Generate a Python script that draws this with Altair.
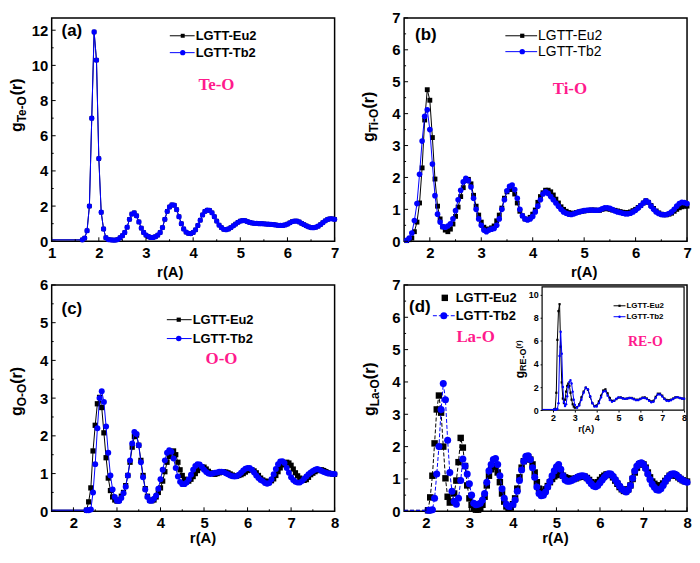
import altair as alt
import pandas as pd

FONT = "Liberation Sans"
SERIF = "Liberation Serif"
BLACK = "#000000"
BLUE = "#0000ff"
PINK = "#ff1a8c"
SERIES = ["LGTT-Eu2", "LGTT-Tb2"]
STEP = 0.05

# ---------------- data ----------------
# (a) Te-O : flat tail from 1.0, then sampled every 0.05 from 1.65
teo_flat_start = 1.0
teo_r0 = 1.65
teo_tb2 = [0.08, 0.18, 0.6, 2.0, 7.0, 11.9, 10.3, 4.7, 1.65, 0.7,
           0.2, 0.1, 0.08, 0.07, 0.07, 0.1, 0.2, 0.32, 0.5, 0.8,
           1.25, 1.55, 1.62, 1.45, 1.1, 0.75, 0.5, 0.35, 0.27, 0.22,
           0.22, 0.26, 0.35, 0.5, 0.78, 1.25, 1.7, 1.95, 2.07, 2.05,
           1.8, 1.4, 1.0, 0.7, 0.52, 0.45, 0.44, 0.5, 0.65, 0.9,
           1.2, 1.5, 1.7, 1.77, 1.75, 1.62, 1.4, 1.15, 0.92, 0.78,
           0.68, 0.66, 0.7, 0.78, 0.88, 0.98, 1.08, 1.15, 1.18, 1.17,
           1.12, 1.07, 1.04, 1.02, 1.02, 1.0, 1.0, 0.99, 0.98, 0.97,
           0.96, 0.95, 0.93, 0.91, 0.9, 0.9, 0.93, 0.98, 1.05, 1.12,
           1.15, 1.15, 1.1, 1.02, 0.95, 0.88, 0.82, 0.78, 0.77, 0.8,
           0.86, 0.95, 1.06, 1.16, 1.24, 1.28, 1.28, 1.25]
teo_eu2 = teo_tb2  # the Eu2 curve lies exactly under the Tb2 curve

# (b) Ti-O
tio_flat_start = 1.5
tio_r0 = 1.55
tio_eu2 = [0.02, 0.05, 0.1, 0.3, 0.6, 1.2, 2.3, 3.8, 4.75, 4.42,
           3.25, 1.95, 1.1, 0.7, 0.45, 0.35, 0.3, 0.38, 0.54, 0.78,
           1.07, 1.4, 1.68, 1.9, 1.94, 1.8, 1.44, 1.1, 0.82, 0.6,
           0.44, 0.38, 0.38, 0.42, 0.48, 0.64, 0.82, 1.04, 1.35, 1.55,
           1.62, 1.63, 1.48, 1.2, 0.94, 0.8, 0.7, 0.68, 0.75, 0.85,
           0.98, 1.22, 1.4, 1.52, 1.6, 1.6, 1.55, 1.45, 1.32, 1.2,
           1.08, 1.0, 0.94, 0.9, 0.88, 0.88, 0.9, 0.92, 0.94, 0.95,
           0.96, 0.97, 0.98, 0.98, 0.97, 0.97, 1.0, 1.02, 1.02, 1.0,
           0.98, 0.97, 0.95, 0.93, 0.91, 0.9, 0.9, 0.92, 0.96, 1.0,
           1.06, 1.12, 1.2, 1.27, 1.22, 1.12, 1.03, 0.95, 0.89, 0.85,
           0.83, 0.83, 0.85, 0.88, 0.94, 1.0, 1.05, 1.08, 1.1, 1.1]
tio_tb2 = [0.03, 0.1, 0.26, 0.65, 1.18, 2.1, 3.14, 3.92, 4.12, 3.5,
           2.42, 1.43, 0.85, 0.6, 0.46, 0.44, 0.48, 0.55, 0.7, 0.96,
           1.3, 1.6, 1.86, 1.97, 1.9, 1.7, 1.35, 1.0, 0.7, 0.5,
           0.35, 0.3, 0.35, 0.38, 0.4, 0.5, 0.7, 1.0, 1.3, 1.58,
           1.72, 1.76, 1.62, 1.35, 1.0, 0.8, 0.7, 0.67, 0.7, 0.78,
           0.92, 1.1, 1.3, 1.48, 1.55, 1.5, 1.4, 1.3, 1.2, 1.1,
           1.0, 0.92, 0.88, 0.85, 0.84, 0.86, 0.89, 0.92, 0.94, 0.96,
           0.97, 0.98, 0.98, 0.97, 0.97, 0.98, 1.02, 1.05, 1.05, 1.03,
           0.99, 0.95, 0.92, 0.9, 0.88, 0.86, 0.86, 0.88, 0.92, 0.97,
           1.04, 1.12, 1.2, 1.27, 1.22, 1.1, 1.0, 0.92, 0.87, 0.84,
           0.83, 0.84, 0.87, 0.92, 1.0, 1.1, 1.18, 1.22, 1.21, 1.18]

# (c) O-O
oo_flat_start = 1.5
oo_r0 = 2.30
oo_eu2 = [0.03, 0.25, 0.62, 1.6, 2.28, 2.85, 3.02, 2.75, 2.08, 1.42,
          0.88, 0.55, 0.38, 0.3, 0.27, 0.3, 0.4, 0.5, 0.68, 0.95,
          1.3, 1.7, 1.98, 2.02, 1.75, 1.35, 0.95, 0.6, 0.4, 0.3,
          0.28, 0.3, 0.38, 0.5, 0.62, 0.8, 1.05, 1.3, 1.45, 1.57,
          1.6, 1.5, 1.3, 1.1, 0.95, 0.85, 0.8, 0.8, 0.85, 0.92,
          1.0, 1.08, 1.15, 1.18, 1.17, 1.12, 1.06, 1.02, 1.0, 0.98,
          1.0, 1.02, 1.04, 1.05, 1.04, 1.02, 0.99, 0.96, 0.94, 0.93,
          0.95, 0.97, 1.0, 1.04, 1.08, 1.1, 1.1, 1.07, 1.02, 0.95,
          0.88, 0.83, 0.8, 0.79, 0.79, 0.81, 0.86, 0.95, 1.05, 1.15,
          1.23, 1.28, 1.3, 1.28, 1.22, 1.12, 1.02, 0.94, 0.88, 0.84,
          0.82, 0.84, 0.9, 0.97, 1.01, 1.05, 1.08, 1.1, 1.1, 1.08,
          1.05, 1.02, 1.0, 0.99, 0.98]
oo_tb2 = [0.03, 0.03, 0.05, 0.5, 1.25, 2.2, 3.0, 3.18, 2.9, 2.25,
          1.55, 0.95, 0.58, 0.38, 0.28, 0.27, 0.35, 0.48, 0.65, 0.95,
          1.35, 1.8, 2.1, 2.05, 1.75, 1.3, 0.9, 0.58, 0.38, 0.28,
          0.28, 0.33, 0.42, 0.6, 0.85, 1.1, 1.35, 1.55, 1.62, 1.58,
          1.4, 1.15, 0.92, 0.78, 0.72, 0.72, 0.76, 0.85, 0.97, 1.1,
          1.2, 1.25, 1.24, 1.18, 1.1, 1.04, 1.0, 0.99, 1.0, 1.02,
          1.03, 1.05, 1.05, 1.04, 1.01, 0.98, 0.95, 0.93, 0.92, 0.93,
          0.97, 1.02, 1.08, 1.13, 1.15, 1.15, 1.1, 1.03, 0.95, 0.88,
          0.83, 0.8, 0.75, 0.73, 0.75, 0.85, 0.98, 1.12, 1.25, 1.32,
          1.33, 1.28, 1.15, 1.02, 0.9, 0.83, 0.78, 0.76, 0.76, 0.8,
          0.86, 0.92, 0.98, 1.03, 1.07, 1.1, 1.12, 1.1, 1.07, 1.04,
          1.02, 1.0, 1.0, 0.99, 0.99]

# (d) La-O
lao_flat_start = 1.5
lao_r0 = 2.05
lao_eu2 = [0.03,
           0.43, 1.1, 2.1, 3.15, 3.58, 3.05, 2.0, 1.02, 0.45, 0.27,
           0.3, 0.55, 0.95, 1.52, 2.27, 1.97, 1.4, 0.8, 0.4, 0.2,
           0.1, 0.05, 0.05, 0.1, 0.2, 0.45, 0.8, 1.1, 1.3, 1.4,
           1.38, 1.2, 0.9, 0.55, 0.3, 0.15, 0.1, 0.12, 0.22, 0.4,
           0.7, 1.05, 1.35, 1.55, 1.65, 1.68, 1.6, 1.45, 1.2, 0.9,
           0.7, 0.6, 0.6, 0.68, 0.78, 0.9, 1.0, 1.08, 1.12, 1.18,
           1.15, 1.1, 1.05, 1.02, 1.0, 1.0, 1.0, 1.02, 1.05, 1.07,
           1.08, 1.07, 1.03, 0.97, 0.9, 0.85, 0.85, 0.9, 0.97, 1.05,
           1.1, 1.14, 1.15, 1.12, 1.05, 0.95, 0.85, 0.75, 0.68, 0.63,
           0.62, 0.68, 0.8, 1.0, 1.2, 1.35, 1.45, 1.48, 1.45, 1.35,
           1.2, 1.05, 0.92, 0.85, 0.8, 0.78, 0.8, 0.86, 0.94, 1.02,
           1.1, 1.14, 1.14, 1.1, 1.05, 1.0, 0.96, 0.93, 0.92]
lao_tb2 = [0.03,
           0.03, 0.05, 0.4, 1.15, 2.0, 3.15, 3.95, 3.45, 2.2, 1.2,
           0.62, 0.3, 0.22, 0.4, 0.95, 1.62, 1.4, 1.15, 0.85, 0.5,
           0.25, 0.2, 0.22, 0.25, 0.35, 0.55, 0.9, 1.25, 1.45, 1.6,
           1.63, 1.45, 1.1, 0.7, 0.4, 0.22, 0.15, 0.15, 0.2, 0.35,
           0.62, 0.95, 1.28, 1.55, 1.7, 1.72, 1.6, 1.35, 1.05, 0.75,
           0.55, 0.48, 0.5, 0.6, 0.75, 0.92, 1.1, 1.25, 1.38, 1.45,
           1.3, 1.1, 0.97, 0.93, 0.93, 0.95, 0.99, 1.03, 1.07, 1.09,
           1.1, 1.08, 1.02, 0.94, 0.85, 0.78, 0.76, 0.8, 0.88, 0.97,
           1.05, 1.12, 1.16, 1.15, 1.08, 0.98, 0.88, 0.78, 0.7, 0.64,
           0.6, 0.66, 0.8, 1.02, 1.25, 1.4, 1.48, 1.5, 1.45, 1.32,
           1.15, 0.98, 0.84, 0.74, 0.67, 0.65, 0.7, 0.8, 0.92, 1.02,
           1.1, 1.15, 1.16, 1.13, 1.07, 1.01, 0.96, 0.92, 0.9]

# inset RE-O (finer near the first peak, 0.1 steps beyond 3.0)
reo_r = ([1.5] + [round(2.05 + 0.05 * i, 2) for i in range(20)]
         + [round(3.1 + 0.1 * i, 2) for i in range(50)])
reo_eu2 = [0.05,
           0.05, 0.1, 1.5, 6.1, 8.6, 9.2, 5.5, 2.4, 1.0, 0.6,
           0.9, 1.6, 2.1, 2.3, 2.1, 1.5, 0.9, 0.5, 0.3, 0.2,
           0.25, 0.5, 1.1, 1.6, 1.95, 1.75, 1.15, 0.6, 0.35, 0.4,
           0.75, 1.25, 1.7, 1.8, 1.45, 1.05, 0.8, 0.8, 0.95, 1.08,
           1.1, 1.02, 0.98, 1.0, 1.05, 1.05, 0.98, 0.9, 0.9, 0.98,
           1.08, 1.1, 1.0, 0.85, 0.75, 0.8, 1.15, 1.42, 1.42, 1.25,
           1.0, 0.88, 0.85, 0.9, 1.0, 1.1, 1.12, 1.05, 1.0, 0.98]
reo_tb2 = [0.05,
           0.05, 0.05, 0.05, 0.1, 0.6, 4.7, 6.8, 4.9, 2.0, 0.7,
           0.35, 0.5, 1.2, 2.0, 2.45, 2.6, 2.3, 1.6, 0.9, 0.45,
           0.2, 0.4, 0.9, 1.5, 1.95, 1.8, 1.2, 0.6, 0.3, 0.3,
           0.6, 1.1, 1.6, 1.65, 1.25, 0.88, 0.72, 0.8, 0.98, 1.1,
           1.08, 1.0, 0.97, 1.0, 1.04, 1.02, 0.94, 0.86, 0.86, 0.95,
           1.05, 1.05, 0.95, 0.8, 0.68, 0.72, 1.05, 1.35, 1.35, 1.18,
           0.95, 0.8, 0.78, 0.85, 0.96, 1.08, 1.12, 1.05, 1.0, 0.98]

# axis ticks
a_xmaj = [1, 2, 3, 4, 5, 6, 7]
a_xmin = [1.5, 2.5, 3.5, 4.5, 5.5, 6.5]
a_ymaj = [0, 2, 4, 6, 8, 10, 12]
a_ymin = [1, 3, 5, 7, 9, 11]
b_xmaj = [2, 3, 4, 5, 6, 7]
b_xmin = [2.5, 3.5, 4.5, 5.5, 6.5]
b_ymaj = [0, 1, 2, 3, 4, 5, 6, 7]
b_ymin = [0.5, 1.5, 2.5, 3.5, 4.5, 5.5, 6.5]
c_xmaj = [2, 3, 4, 5, 6, 7, 8]
c_xmin = [2.5, 3.5, 4.5, 5.5, 6.5, 7.5]
c_ymaj = [0, 1, 2, 3, 4, 5, 6]
c_ymin = [0.5, 1.5, 2.5, 3.5, 4.5, 5.5]
d_ymaj = [0, 1, 2, 3, 4, 5, 6, 7]
d_ymin = [0.5, 1.5, 2.5, 3.5, 4.5, 5.5, 6.5]
inset_xmaj = [2, 3, 4, 5, 6, 7, 8]
inset_ymaj = [0, 2, 4, 6, 8, 10]

# ---------------- helpers ----------------
W = 285
H1 = 225
H2 = 228
ONE = pd.DataFrame({"k": [0]})
CW = {"g": 0.611, "T": 0.611, "e": 0.556, "-": 0.333, "O": 0.778, "i": 0.278,
      "L": 0.611, "a": 0.556, "R": 0.722, "E": 0.667, "(": 0.333, "r": 0.389, ")": 0.333}


def tw(s, size):
    return sum(CW[c] for c in s) * size


def grid_frame(flat_start, r0, eu, tb):
    rows = []
    for name, vals in ((SERIES[0], eu), (SERIES[1], tb)):
        rows.append({"r": flat_start, "g": vals[0], "s": name, "m": False})
        for i, v in enumerate(vals):
            rows.append({"r": round(r0 + STEP * i, 2), "g": v, "s": name, "m": True})
    return pd.DataFrame(rows)


def list_frame(rs, eu, tb):
    rows = []
    for name, vals in ((SERIES[0], eu), (SERIES[1], tb)):
        for i, (r, v) in enumerate(zip(rs, vals)):
            rows.append({"r": r, "g": v, "s": name, "m": i > 0})
    return pd.DataFrame(rows)


def text_mark(x, y, s, size, weight="bold", font=FONT, color="black",
              align="left", baseline="alphabetic", angle=0):
    kw = dict(text=s, font=font, fontSize=size, fontWeight=weight, color=color,
              align=align, baseline=baseline)
    if angle:
        kw["angle"] = angle
    return alt.Chart(ONE).mark_text(**kw).encode(x=alt.value(x), y=alt.value(y))


def ytitle(bx, yb, sub, gsize=16, ssize=12, rsize=16, sub_dx=4, r_dx=0):
    wg = tw("g", gsize)
    ws = tw(sub, ssize)
    return [text_mark(bx, yb, "g", gsize, angle=270),
            text_mark(bx + sub_dx, yb - wg, sub, ssize, angle=270),
            text_mark(bx + r_dx, yb - wg - ws, "(r)", rsize, angle=270)]


def legend_row(y, x1, x2, mx, tx, name, color, shape, msize, fsize,
               weight="bold", dash=None, line=True):
    out = []
    if line:
        kw = dict(color=color, strokeWidth=1)
        if dash:
            kw["strokeDash"] = dash
        out.append(alt.Chart(ONE).mark_rule(**kw).encode(
            x=alt.value(x1), x2=alt.value(x2), y=alt.value(y)))
    out.append(alt.Chart(ONE).mark_point(shape=shape, filled=True, size=msize,
                                         color=color, opacity=1).encode(
        x=alt.value(mx), y=alt.value(y)))
    out.append(text_mark(tx, y, name, fsize, weight=weight, baseline="middle"))
    return out


def series_layers(df, xs, ys, sizes, xaxis, yaxis, dash=None):
    out = []
    for name, color, shape, msize in zip(SERIES, [BLACK, BLUE], ["square", "circle"], sizes):
        d = df[df.s == name]
        kw = dict(color=color, strokeWidth=1)
        if dash:
            kw["strokeDash"] = dash
        out.append(alt.Chart(d).mark_line(**kw).encode(
            x=alt.X("r:Q", scale=xs, axis=xaxis),
            y=alt.Y("g:Q", scale=ys, axis=yaxis)))
        out.append(alt.Chart(d[d.m]).mark_point(shape=shape, filled=True, size=msize,
                                                color=color, opacity=1).encode(
            x=alt.X("r:Q", scale=xs, axis=xaxis),
            y=alt.Y("g:Q", scale=ys, axis=yaxis)))
    return out


def tick_layers(xs, ys, xa, ya, xmaj, xmin, ymaj, ymin, H):
    out = []
    for vals, ln in ((xmaj, 4), (xmin, 2)):
        out.append(alt.Chart(pd.DataFrame({"r": vals})).mark_rule(color="black", strokeWidth=1).encode(
            x=alt.X("r:Q", scale=xs, axis=xa), y=alt.value(H), y2=alt.value(H - ln)))
    for vals, ln in ((ymaj, 4), (ymin, 2)):
        out.append(alt.Chart(pd.DataFrame({"g": vals})).mark_rule(color="black", strokeWidth=1).encode(
            y=alt.Y("g:Q", scale=ys, axis=ya), x=alt.value(0), x2=alt.value(ln)))
    return out


def axes(xmaj, ymaj, title_x, title_y):
    common = dict(grid=False, ticks=False, domain=False, format="d",
                  labelFont=FONT, labelFontSize=15, labelFontWeight="bold",
                  labelColor="black", labelPadding=4, labelFlush=False, labelOverlap=False)
    xa = alt.Axis(values=xmaj, title="r(A)", titleFont=FONT, titleFontSize=15,
                  titleFontWeight="bold", titleColor="black", titleX=title_x, titleY=title_y,
                  titleAlign="center", titleBaseline="alphabetic", **common)
    ya = alt.Axis(values=ymaj, title=None, **common)
    return xa, ya


def main_panel(df, H, xdom, ydom, xmaj, xmin, ymaj, ymin, title_x, title_y, sizes, dash=None):
    xs = alt.Scale(domain=xdom, nice=False, zero=False)
    ys = alt.Scale(domain=ydom, nice=False, zero=False)
    xa, ya = axes(xmaj, ymaj, title_x, title_y)
    return (series_layers(df, xs, ys, sizes, xa, ya, dash)
            + tick_layers(xs, ys, xa, ya, xmaj, xmin, ymaj, ymin, H))


# ---------------- panel (a) ----------------
df_a = grid_frame(teo_flat_start, teo_r0, teo_eu2, teo_tb2)
layers_a = main_panel(df_a, H1, [1, 7], [0, 12.7], a_xmaj, a_xmin, a_ymaj, a_ymin,
                      119, 35, [20, 28])
layers_a += [text_mark(10, 18, "(a)", 17),
             text_mark(166, 73, "Te-O", 17, font=SERIF, color=PINK, align="center")]
layers_a += legend_row(18, 119, 144, 132, 145, SERIES[0], BLACK, "square", 16, 13)
layers_a += legend_row(35, 119, 144, 132, 145, SERIES[1], BLUE, "circle", 28, 13)
layers_a += ytitle(-30, H1 - 110, "Te-O")
pa = alt.layer(*layers_a).properties(width=W, height=H1)

# ---------------- panel (b) ----------------
df_b = grid_frame(tio_flat_start, tio_r0, tio_eu2, tio_tb2)
layers_b = main_panel(df_b, H1, [1.5, 7], [0, 7], b_xmaj, b_xmin, b_ymaj, b_ymin,
                      181, 35, [24, 32])
layers_b += [text_mark(11, 22, "(b)", 17),
             text_mark(167, 77, "Ti-O", 17, font=SERIF, color=PINK, align="center")]
layers_b += legend_row(18, 102, 134, 119, 135, SERIES[0], BLACK, "square", 18, 14, weight="normal")
layers_b += legend_row(34, 102, 134, 119, 135, SERIES[1], BLUE, "circle", 30, 14, weight="normal")
layers_b += ytitle(-30, H1 - 100, "Ti-O")
pb = alt.layer(*layers_b).properties(width=W, height=H1)

# ---------------- panel (c) ----------------
df_c = grid_frame(oo_flat_start, oo_r0, oo_eu2, oo_tb2)
layers_c = main_panel(df_c, H2, [1.5, 8], [0, 6], c_xmaj, c_xmin, c_ymaj, c_ymin,
                      152, 31, [28, 36])
layers_c += [text_mark(10, 29, "(c)", 17),
             text_mark(171, 80, "O-O", 17, font=SERIF, color=PINK, align="center")]
layers_c += legend_row(35, 116, 141, 128, 142, SERIES[0], BLACK, "square", 18, 13)
layers_c += legend_row(54, 116, 141, 128, 142, SERIES[1], BLUE, "circle", 30, 13)
layers_c += ytitle(-30, 132, "O-O")
pc = alt.layer(*layers_c).properties(width=W, height=H2)

# ---------------- panel (d) with inset ----------------
df_d = grid_frame(lao_flat_start, lao_r0, lao_eu2, lao_tb2)
layers_d = main_panel(df_d, H2, [1.5, 8], [0, 7], c_xmaj, c_xmin, d_ymaj, d_ymin,
                      152, 31, [42, 50], dash=[4, 2])
layers_d += [text_mark(5, 27, "(d)", 17),
             text_mark(72, 57, "La-O", 17, font=SERIF, color=PINK, align="center")]
layers_d += legend_row(13, 29, 51, 41, 52, SERIES[0], BLACK, "square", 42, 13, line=False)
layers_d += legend_row(31, 29, 51, 40, 52, SERIES[1], BLUE, "circle", 50, 13, dash=[4, 2])
layers_d += ytitle(-29, 132, "La-O")
main_d = alt.layer(*layers_d)

IX0, IX1, IY0, IY1 = 139, 282, 126, 2
inset_xdom = [1.5, 8]
inset_ydom = [0, 10.7]
ixs = alt.Scale(domain=inset_xdom, range=[IX0, IX1], nice=False, zero=False)
iys = alt.Scale(domain=inset_ydom, range=[IY0, IY1], nice=False, zero=False)
icommon = dict(grid=False, ticks=True, tickSize=2, tickColor="black", domain=False, format="d",
               labelFont=FONT, labelFontSize=9, labelFontWeight="bold", labelColor="black",
               labelPadding=2, labelFlush=False, labelOverlap=False)
ixa = alt.Axis(orient="bottom", offset=IY0 - H2, values=inset_xmaj, title="r(A)",
               titleFont=FONT, titleFontSize=9, titleFontWeight="bold", titleColor="black",
               titleX=183, titleY=22, titleAlign="center", titleBaseline="alphabetic", **icommon)
iya = alt.Axis(orient="left", offset=-IX0, values=inset_ymaj, title=None, **icommon)
frame_df = pd.DataFrame({"r": [inset_xdom[0]], "r2": [inset_xdom[1]],
                         "g": [inset_ydom[0]], "g2": [inset_ydom[1]]})
inset_frame = alt.Chart(frame_df).mark_rect(fill="white", stroke="black", strokeWidth=1.2).encode(
    x=alt.X("r:Q", scale=ixs, axis=ixa), x2="r2:Q",
    y=alt.Y("g:Q", scale=iys, axis=iya), y2="g2:Q")
df_i = list_frame(reo_r, reo_eu2, reo_tb2)
inset_layers = [inset_frame] + series_layers(df_i, ixs, iys, [5, 6], ixa, iya)
inset_layers += [text_mark(243, 62, "RE-O", 14, font=SERIF, color=PINK, align="center")]
inset_layers += legend_row(21, 211, 223, 217, 224, SERIES[0], BLACK, "square", 5, 8)
inset_layers += legend_row(32, 211, 223, 217, 224, SERIES[1], BLUE, "circle", 6, 8)
inset_layers += ytitle(121, 94, "RE-O", gsize=12, ssize=9, rsize=8, sub_dx=2, r_dx=-3)
inset = alt.layer(*inset_layers)

pd_ = alt.layer(main_d, inset).resolve_scale(x="independent", y="independent").properties(
    width=W, height=H2)

chart = alt.concat(pa, pb, pc, pd_, columns=2, spacing={"row": 44, "column": 70},
                   bounds="flush").configure_view(
    stroke="black", strokeWidth=1.5).properties(
    padding={"left": 0, "right": 0, "top": 0, "bottom": 0}, background="white")

chart.save("out.html", embed_options={"renderer": "svg", "actions": False})
